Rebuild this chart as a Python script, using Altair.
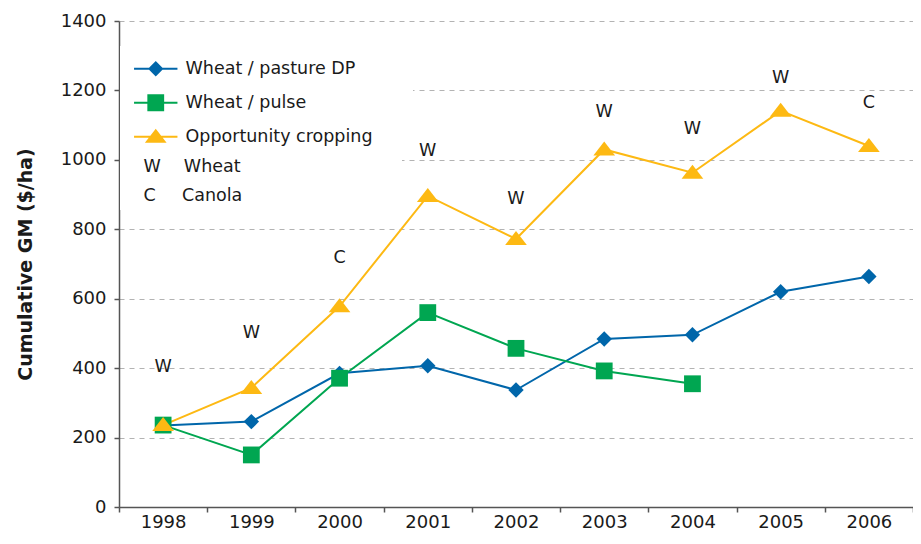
import altair as alt
import pandas as pd

# ---- data ----
years = ["1998", "1999", "2000", "2001", "2002", "2003", "2004", "2005", "2006"]
series_names = ["Wheat / pasture DP", "Wheat / pulse", "Opportunity cropping"]
wheat_pasture_dp = [235, 246, 385, 407, 337, 484, 496, 620, 664]
wheat_pulse = [236, 150, 371, 560, 457, 392, 355, None, None]
opportunity = [236, 343, 578, 896, 772, 1030, 963, 1141, 1040]
crop_letters = ["W", "W", "C", "W", "W", "W", "W", "W", "C"]
crop_label_level = [403, 501, 717, 1025, 887, 1138, 1089, 1237, 1165]
crop_codes = ["W", "C"]
crop_names = ["Wheat", "Canola"]

# ---- styles ----
colors = ["#0066AA", "#00A651", "#FDB913"]
point_paths = [
    "M0,-1.1L1.1,0L0,1.1L-1.1,0Z",
    "M-1.2,-1.2H1.2V1.2H-1.2Z",
    "M0,-1.15L1.55,0.85H-1.55Z",
]
stub = "M-3.1,-0.14H3.1V0.14H-3.1Z"
legend_paths = [stub + p for p in point_paths]
FONT = "DejaVu Sans"
TXT = "#1a1a1a"
AX = "#555555"
BLANK = "\u2800"   # blank filler so the white legend box reaches past the labels

rows = []
for name, vals in zip(series_names, [wheat_pasture_dp, wheat_pulse, opportunity]):
    for yr, v in zip(years, vals):
        if v is not None:
            rows.append({"year": yr, "series": name, "GM": v})
df = pd.DataFrame(rows)

spacers = {"W": "\u2003\u00a0", "C": "\u2003\u2002"}
key_of = {c: c + spacers[c] + n for c, n in zip(crop_codes, crop_names)}
keys = [key_of[c] for c in crop_codes]
ann = pd.DataFrame({"year": years, "letter": crop_letters, "GM": crop_label_level,
                    "key": [key_of[c] for c in crop_letters]})

PLOT_W = 794
PLOT_H = 486
x_enc = alt.X("year:N", sort=years,
              scale=alt.Scale(type="band", paddingInner=0, paddingOuter=0),
              axis=alt.Axis(title=None, labelAngle=0, tickBand="extent", grid=False,
                            labelFont=FONT, labelFontSize=18, labelColor=TXT,
                            labelPadding=1, tickSize=5, tickColor=AX, tickWidth=1.5,
                            domainColor=AX, domainWidth=1.5))
y_axis = alt.Axis(title="Cumulative GM ($/ha)", values=[0, 200, 400, 600, 800, 1000, 1200, 1400],
                  format="d",
                  titleFont=FONT, titleFontSize=19, titleFontWeight="bold", titleColor=TXT,
                  titleX=-94, titleY=PLOT_H / 2, titleBaseline="middle", titleAngle=-90,
                  labelFont=FONT, labelFontSize=18, labelColor=TXT, labelPadding=8,
                  tickSize=5, tickColor=AX, tickWidth=1.5, domainColor=AX, domainWidth=1.5,
                  grid=True, gridColor="#b3b3b3", gridDash=[5, 5], gridWidth=1)
y_scale = alt.Scale(domain=[0, 1400], nice=False)


def y_enc():
    return alt.Y("GM:Q", scale=y_scale, axis=y_axis)


layers = []
for name, c in zip(series_names, colors):
    layers.append(alt.Chart(df).transform_filter(alt.datum.series == name)
                  .mark_line(color=c, strokeWidth=2).encode(x=x_enc, y=y_enc()))
for name, c, p in zip(series_names, colors, point_paths):
    layers.append(alt.Chart(df).transform_filter(alt.datum.series == name)
                  .mark_point(shape=p, filled=True, size=196, color=c, opacity=1)
                  .encode(x=x_enc, y=y_enc()))

leg1 = alt.Legend(orient="none", legendX=1, legendY=25, title=None, fillColor="white",
                  padding=14, symbolOffset=13, labelOffset=21, labelFont=FONT,
                  labelFontSize=17.5, labelColor=TXT, labelLimit=0, rowPadding=15,
                  symbolSize=196, symbolStrokeWidth=0,
                  labelExpr="datum.label + '" + BLANK * 2 + "'")
layers.append(alt.Chart(df).transform_filter("false")
              .mark_point(filled=True, size=196, opacity=1)
              .encode(x=x_enc, y=y_enc(),
                      color=alt.Color("series:N", scale=alt.Scale(domain=series_names, range=colors), legend=leg1),
                      shape=alt.Shape("series:N", scale=alt.Scale(domain=series_names, range=legend_paths), legend=leg1)))

leg2 = alt.Legend(orient="none", legendX=1, legendY=132, title=None, fillColor="white",
                  padding=5, symbolType="M0,0", symbolSize=0, labelOffset=1,
                  labelFont=FONT, labelFontSize=17.5, labelColor=TXT, labelLimit=0,
                  rowPadding=10,
                  labelExpr="datum.label + '" + BLANK * 12 + "'")
layers.append(alt.Chart(ann).mark_text(font=FONT, fontSize=17.5, color=TXT, baseline="middle")
              .encode(x=x_enc, y=y_enc(), text="letter:N",
                      opacity=alt.Opacity("key:N", scale=alt.Scale(domain=keys, range=[1, 1]), legend=leg2)))

chart = alt.layer(*layers).properties(
    width=PLOT_W, height=PLOT_H,
    autosize=alt.AutoSizeParams(type="none"),
    padding={"left": 111, "top": 13, "right": 0, "bottom": 29},
).configure_view(stroke=None)

chart.save("out.html", embed_options={"renderer": "svg", "actions": False})
